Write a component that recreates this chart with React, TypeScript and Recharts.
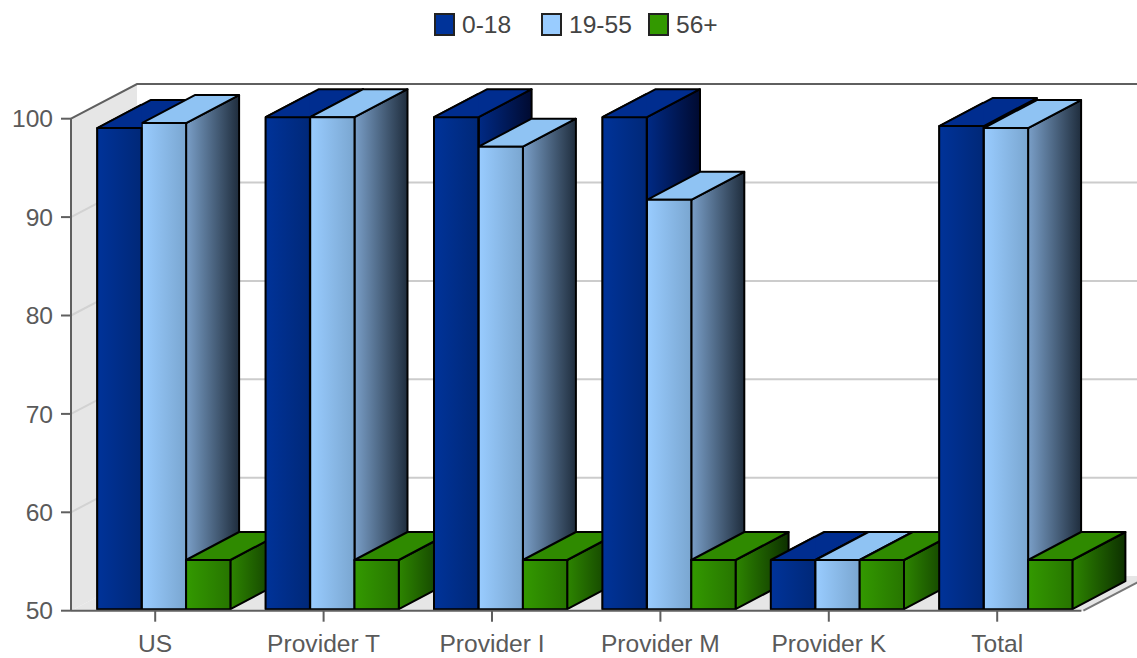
import { BarChart, Bar, XAxis, YAxis, ReferenceArea } from "recharts"

const categories = ["US", "Provider T", "Provider I", "Provider M", "Provider K", "Total"]
const young = [98.9, 100, 100, 100, 55, 99.1]
const adult = [99.4, 100, 97, 91.6, 55, 98.9]
const senior = [55, 55, 55, 55, 55, 55]
const yTicks = [50, 60, 70, 80, 90, 100]
const gridTicks = [60, 70, 80, 90]

const legendLabels = ["0-18", "19-55", "56+"]
const legendColors = ["#003399", "#99ccff", "#339900"]
const legendLefts = [434, 541, 648]

const chartData = categories.map((name, i) => ({
  name,
  young: young[i],
  adult: adult[i],
  senior: senior[i],
}))

const FONT = '"Liberation Sans", Arial, sans-serif'
const FONT_SIZE = 24.6
const TEXT = "#5a5a5a"
const AXIS = "#5f5f5f"

// wall depth of the 3D box, and bar depth
const WALL_DX = 66
const WALL_DY = 34.6
const BAR_DX = 53
const BAR_DY = 28
const BAR_W = 44.3
const SHIFT_X = 8.5
const SHIFT_Y = -1.5
const EDGE = { stroke: "#000", strokeWidth: 2, strokeLinejoin: "round" as const }

const makeBar = (prefix: string, topColor: string) => (props: any) => {
  const { width: w, height: h } = props
  const x = props.x + SHIFT_X
  const y = props.y + SHIFT_Y
  return (
    <g>
      <polygon
        points={`${x + w},${y} ${x + w + BAR_DX},${y - BAR_DY} ${x + w + BAR_DX},${y + h - BAR_DY} ${x + w},${y + h}`}
        fill={`url(#${prefix}Side)`}
        {...EDGE}
      />
      <polygon
        points={`${x},${y} ${x + w},${y} ${x + w + BAR_DX},${y - BAR_DY} ${x + BAR_DX},${y - BAR_DY}`}
        fill={topColor}
        {...EDGE}
      />
      <rect x={x} y={y} width={w} height={h} fill={`url(#${prefix}Front)`} {...EDGE} />
    </g>
  )
}

// repaints the front of the dark bar so it sits ahead of the previous group's last bar
const YoungFrontPass = (props: any) => {
  const { width: w, height: h } = props
  const x = props.x - w + SHIFT_X
  const y = props.y + SHIFT_Y
  const rise = (BAR_DY * w) / BAR_DX
  return (
    <g>
      <polygon points={`${x},${y} ${x + w},${y} ${x + w},${y - rise}`} fill="#002d8f" />
      <line x1={x} y1={y} x2={x + w} y2={y - rise} {...EDGE} />
      <rect x={x} y={y} width={w} height={h} fill="url(#youngFront)" {...EDGE} />
    </g>
  )
}

const Walls = (props: any) => {
  const { x, y, width, height } = props
  const bottom = y + height
  const right = x + width + 2
  return (
    <g>
      <polygon
        points={`${x},${y} ${x + WALL_DX},${y - WALL_DY} ${x + WALL_DX},${bottom - WALL_DY} ${x},${bottom}`}
        fill="#e6e6e6"
      />
      <polygon
        points={`${x},${bottom} ${x + WALL_DX},${bottom - WALL_DY} ${right + WALL_DX},${bottom - WALL_DY} ${right},${bottom}`}
        fill="#e6e6e6"
      />
      <polyline
        points={`${x},${y} ${x + WALL_DX},${y - WALL_DY} ${right + WALL_DX},${y - WALL_DY}`}
        fill="none"
        stroke={AXIS}
        strokeWidth={2}
      />
      <line x1={right} y1={bottom} x2={right + WALL_DX} y2={bottom - WALL_DY} stroke="#777" strokeWidth={2} />
    </g>
  )
}

// a zero-height area at each tick, bent along the side wall and across the back wall
const GridLine = (props: any) => {
  const { x, y, width } = props
  return (
    <g fill="none" strokeWidth={2}>
      <line x1={x} y1={y} x2={x + WALL_DX} y2={y - WALL_DY} stroke="#d2d2d2" />
      <line x1={x + WALL_DX} y1={y - WALL_DY} x2={x + width + WALL_DX} y2={y - WALL_DY} stroke="#cccccc" />
    </g>
  )
}

const Gradient = ({ id, from, to }: { id: string; from: string; to: string }) => (
  <linearGradient id={id} x1="0" y1="0" x2="1" y2="0">
    <stop offset="0" stopColor={from} />
    <stop offset="1" stopColor={to} />
  </linearGradient>
)

const YoungBar = makeBar("young", "#002d8f")
const AdultBar = makeBar("adult", "#8fc3f3")
const SeniorBar = makeBar("senior", "#2f8a00")

export default function App() {
  return (
    <div style={{ position: "absolute", left: 0, top: 0, width: 1137, height: 658, overflow: "hidden", background: "#fff" }}>
      {legendLabels.map((label, i) => (
        <div key={label}>
          <div
            style={{
              position: "absolute",
              left: legendLefts[i],
              top: 13,
              width: 17,
              height: 19,
              border: "2px solid #222",
              background: legendColors[i],
            }}
          />
          <div
            style={{
              position: "absolute",
              left: legendLefts[i] + 28,
              top: 11,
              font: `${FONT_SIZE}px ${FONT}`,
              color: "#444",
              whiteSpace: "nowrap",
            }}
          >
            {label}
          </div>
        </div>
      ))}
      <BarChart
        width={1137}
        height={658}
        data={chartData}
        margin={{ top: 118.7, right: 55.6, bottom: 0, left: 0 }}
        barSize={BAR_W}
        barGap={0}
        style={{ position: "absolute", left: 0, top: 0 }}
      >
        <defs>
          <Gradient id="youngFront" from="#003399" to="#002878" />
          <Gradient id="youngSide" from="#002a85" to="#000a30" />
          <Gradient id="adultFront" from="#99ccff" to="#7aa6d0" />
          <Gradient id="adultSide" from="#7a9fc8" to="#1f2d3d" />
          <Gradient id="seniorFront" from="#339900" to="#277500" />
          <Gradient id="seniorSide" from="#2d8500" to="#0d3000" />
        </defs>
        <XAxis
          dataKey="name"
          height={47.3}
          tickSize={11}
          tickMargin={13}
          interval={0}
          stroke={AXIS}
          axisLine={{ stroke: AXIS, strokeWidth: 2 }}
          tickLine={{ stroke: AXIS, strokeWidth: 2 }}
          tick={{ fill: TEXT, fontSize: FONT_SIZE, fontFamily: FONT }}
        />
        <XAxis xAxisId="frontPass" dataKey="name" hide />
        <YAxis
          width={71}
          domain={[50, 100]}
          ticks={yTicks}
          tickSize={10}
          tickMargin={8}
          stroke={AXIS}
          axisLine={{ stroke: AXIS, strokeWidth: 2 }}
          tickLine={{ stroke: AXIS, strokeWidth: 2 }}
          tick={{ fill: TEXT, fontSize: FONT_SIZE, fontFamily: FONT }}
        />
        <ReferenceArea y1={50} y2={100} ifOverflow="visible" shape={Walls} />
        {gridTicks.map((t) => (
          <ReferenceArea key={t} y1={t} y2={t} ifOverflow="visible" shape={GridLine} />
        ))}
        <Bar dataKey="young" shape={YoungBar} isAnimationActive={false} />
        <Bar dataKey="adult" shape={AdultBar} isAnimationActive={false} />
        <Bar dataKey="senior" shape={SeniorBar} isAnimationActive={false} />
        <Bar xAxisId="frontPass" dataKey="young" shape={YoungFrontPass} legendType="none" isAnimationActive={false} />
      </BarChart>
    </div>
  )
}
